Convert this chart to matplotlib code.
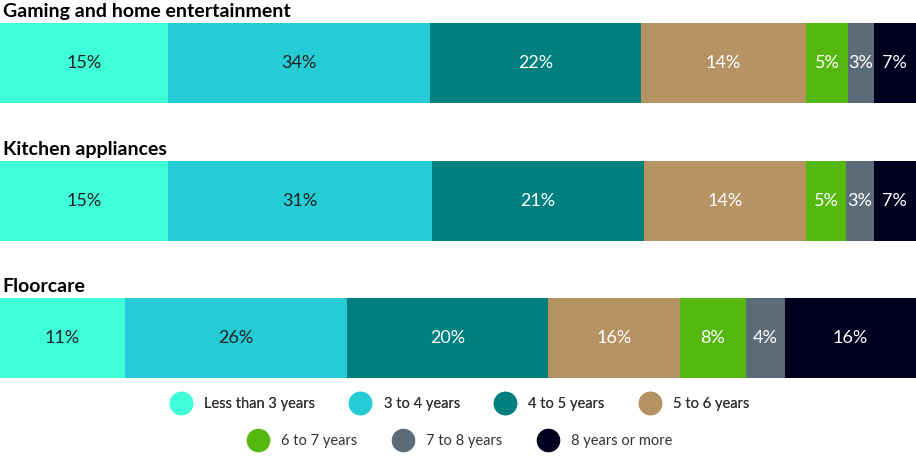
import matplotlib
matplotlib.use('Agg')
import matplotlib.pyplot as plt
from matplotlib.lines import Line2D

# categories and legend
groups = ['Gaming and home entertainment', 'Kitchen appliances', 'Floorcare']
ages = ['Less than 3 years', '3 to 4 years', '4 to 5 years', '5 to 6 years',
        '6 to 7 years', '7 to 8 years', '8 years or more']
colors = ['#3EFFD8', '#25CCD6', '#007F7F', '#B59363', '#55B80F', '#5B6B77', '#00001E']
text_colors = ['#222222', '#222222', 'white', 'white', 'white', 'white', 'white']

# segment widths as drawn (share of bar length) and printed labels
gaming_share = [18.3, 28.6, 23.1, 18.0, 4.6, 2.8, 4.6]
kitchen_share = [18.3, 28.9, 23.1, 17.7, 4.4, 3.0, 4.6]
floorcare_share = [13.6, 24.3, 21.9, 14.4, 7.2, 4.3, 14.3]
gaming_labels = [15, 34, 22, 14, 5, 3, 7]
kitchen_labels = [15, 31, 21, 14, 5, 3, 7]
floorcare_labels = [11, 26, 20, 16, 8, 4, 16]

shares = [gaming_share, kitchen_share, floorcare_share]
labels = [gaming_labels, kitchen_labels, floorcare_labels]

fig = plt.figure(figsize=(9.16, 4.67), dpi=100)
ax = fig.add_axes([0, 0, 1, 1])
ax.set_xlim(0, sum(gaming_share))
ax.set_ylim(467, 0)
ax.axis('off')

bar_y = [63, 201, 338]
bar_h = 80
for g, name in enumerate(groups):
    left = 0
    for i, w in enumerate(shares[g]):
        ax.barh(bar_y[g], w, left=left, height=bar_h, color=colors[i], linewidth=0)
        ax.text(left + w / 2, bar_y[g], f'{labels[g][i]}%', ha='center', va='center',
                color=text_colors[i], fontsize=13, family='Lato', zorder=5)
        left += w
    ax.text(0.3, bar_y[g] - bar_h / 2 - 3, name, ha='left', va='bottom',
            fontsize=14, fontweight='bold', family='Lato', color='black')

handles = [Line2D([], [], marker='o', linestyle='none', markersize=16,
                  markerfacecolor=c, markeredgecolor=c) for c in colors]
leg_kw = dict(frameon=False, handletextpad=0.6, columnspacing=2.1,
              prop={'family': 'Lato', 'size': 10.5}, labelcolor='#333333')
leg1 = fig.legend(handles[:4], ages[:4], ncol=4, loc='center',
                  bbox_to_anchor=(0.5, 1 - 404 / 467), **leg_kw)
fig.add_artist(leg1)
fig.legend(handles[4:], ages[4:], ncol=3, loc='center',
           bbox_to_anchor=(0.5, 1 - 441 / 467), **leg_kw)

fig.savefig('out.png', dpi=100)
